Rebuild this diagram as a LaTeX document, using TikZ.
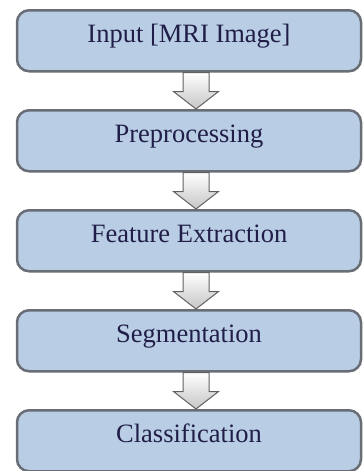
\documentclass[tikz,border=0pt]{standalone}
\usepackage{fontspec}
\setmainfont{Liberation Serif}
\usetikzlibrary{positioning, calc}

\definecolor{boxfill}{RGB}{185,205,228}
\definecolor{boxline}{RGB}{105,110,118}
\definecolor{textnavy}{RGB}{32,30,72}

\begin{document}
\begin{tikzpicture}
		[
			x=1pt, y=1pt,
			stage/.style={rectangle, rounded corners=12pt, draw=boxline, line width=2.5pt, fill=boxfill,
				minimum width=344pt, minimum height=61pt, anchor=north,
				text height=18pt, text depth=15pt,
				text=textnavy, font=\fontsize{26.5}{30}\selectfont},
			blockarr/.style={draw=gray!75!black, line width=1pt, top color=white, bottom color=gray!45},
		]

		\useasboundingbox (0,0) rectangle (362,-471);

		% Stages
		\foreach \name/\y/\text in
		{
			input/-9/{Input [MRI Image]},
			prep/-109/Preprocessing,
			feat/-209/Feature Extraction,
			seg/-309/Segmentation,
			class/-409/Classification
		}
			\node[stage] (\name) at (189,\y) {\text};

		% Arrows
		\foreach \u/\v in
		{
			input/prep,
			prep/feat,
			feat/seg,
			seg/class}
			\draw[blockarr] ($(\u.south)+(-6,0)$) -- ++(0,-19) -- ++(-9.5,0) -- ($(\v.north)+(7,0)$)
				-- ($(\u.south)+(29.5,-19)$) -- ++(-9.5,0) -- ($(\u.south)+(20,0)$) -- cycle;

		\end{tikzpicture}
\end{document}
